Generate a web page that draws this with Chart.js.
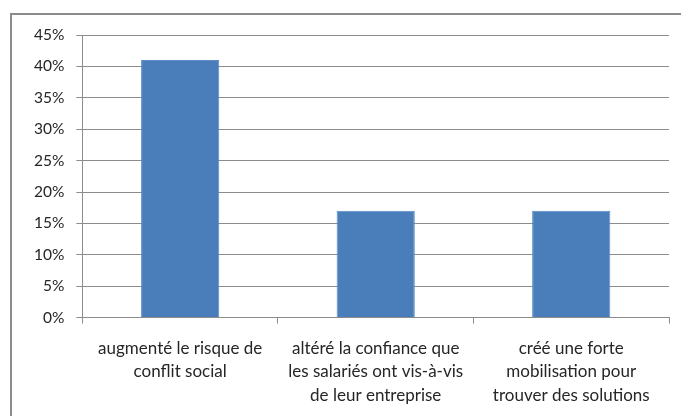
<!DOCTYPE html>
<html>
<head>
<meta charset="utf-8">
<script src="https://cdn.jsdelivr.net/npm/chart.js@4/dist/chart.umd.min.js"></script>
<style>
    html, body { margin: 0; padding: 0; background: #fff; overflow: hidden; }
    #wrap { position: relative; width: 681px; height: 416px; }
    #frame { position: absolute; left: 10px; top: 13px; width: 700px; height: 420px; border: 2px solid #8c8c8c; box-sizing: border-box; }
    canvas { position: absolute; left: 0; top: 0; }
</style>
</head>
<body>
<div id="wrap">
    <div id="frame"></div>
    <canvas id="chart" width="681" height="416"></canvas>
</div>
<script>
const categories = [
    ['augmenté le risque de', 'conflit social'],
    ['altéré la confiance que', 'les salariés ont vis-à-vis', 'de leur entreprise'],
    ['créé une forte', 'mobilisation pour', 'trouver des solutions'],
];
const values = [41, 17, 17];
const yTicks = [0, 5, 10, 15, 20, 25, 30, 35, 40, 45];

const ctx = document.getElementById('chart').getContext('2d');
new Chart(ctx, {
    type: 'bar',
    data: {
        labels: categories,
        datasets: [{
            data: values,
            backgroundColor: '#4a7ebb',
            borderColor: '#5b8cc6',
            borderWidth: 1,
            categoryPercentage: 1,
            barPercentage: 0.4,
        }],
    },
    options: {
        responsive: false,
        animation: false,
        layout: { padding: { left: 22, right: 12, top: 35, bottom: -4 } },
        plugins: { legend: { display: false }, tooltip: { enabled: false } },
        scales: {
            x: {
                offset: true,
                grid: {
                    offset: true,
                    drawOnChartArea: false,
                    drawTicks: true,
                    tickLength: 6,
                    color: '#8c8c8c',
                },
                border: { color: '#8c8c8c' },
                ticks: {
                    color: '#262626',
                    font: { family: 'Lato', size: 17, lineHeight: 1.38 },
                    maxRotation: 0,
                    autoSkip: false,
                    padding: 13,
                },
            },
            y: {
                min: 0,
                max: 45,
                afterBuildTicks: axis => { axis.ticks = yTicks.map(v => ({ value: v })); },
                grid: { color: '#8c8c8c', tickLength: 6 },
                border: { color: '#8c8c8c' },
                ticks: {
                    color: '#262626',
                    font: { family: 'Lato', size: 15.5 },
                    padding: 12,
                    callback: v => v + '%',
                },
            },
        },
    },
});
</script>
</body>
</html>
